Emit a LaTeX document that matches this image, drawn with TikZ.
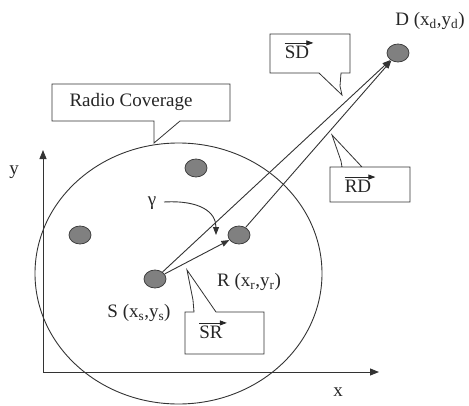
\documentclass[tikz,border=0pt]{standalone}
\usepackage{fontspec}
\setmainfont{Liberation Serif}
\usetikzlibrary{arrows.meta,shapes.geometric}
\begin{document}
\begin{tikzpicture}[x=1pt,y=-1pt,
  dot/.style={ellipse,draw=black!75,fill=black!50,line width=0.8pt,minimum width=22pt,minimum height=18pt,inner sep=0pt},
  lbl/.style={inner sep=0pt,text=black!85,font=\fontsize{19}{22}\selectfont},
  callout/.style={draw=black!80,fill=white,line width=0.8pt,line join=miter},
  vec/.style={-{Triangle[length=7pt,width=5pt]},line width=0.8pt,draw=black!85},
  conn/.style={-{Triangle[length=8pt,width=6pt]},line width=0.9pt,draw=black!80},
  axis/.style={-{Triangle[length=9pt,width=7pt]},line width=0.9pt,draw=black!80}]
\useasboundingbox (0,0) rectangle (469,405);
% coverage
\draw[line width=0.9pt,draw=black!80] (178.5,273.5) ellipse [x radius=143.5,y radius=130.5];
% axes
\coordinate (O) at (43,372);
\coordinate (Ytip) at (43,150);
\coordinate (Xtip) at (379,372);
\draw[axis] (O) -- (Ytip);
\draw[axis] (O) -- (Xtip);
\node[lbl] (ylab) at (14,172) {y};
\node[lbl] (xlab) at (338,392) {x};
% nodes
\node[dot] (D) at (398,53) {};
\node[dot] (S) at (155,279) {};
\node[dot] (R) at (239,235) {};
\node[dot] (N1) at (80,235) {};
\node[dot] (N2) at (196,168) {};
% labels
\node[lbl] (Dl) at (430,21) {D (x\textsubscript{d},y\textsubscript{d})};
\node[lbl] (Rl) at (249,282) {R (x\textsubscript{r},y\textsubscript{r})};
\node[lbl] (Sl) at (139,313) {S (x\textsubscript{s},y\textsubscript{s})};
% connectors
\draw[conn] (S) -- (D);
\draw[conn] (R) -- (D);
\draw[conn] (S) -- (R);
% angle
\draw[line width=0.8pt,draw=black!80] (S) ++(42.9:63) arc[start angle=42.9,end angle=26,radius=63];
\node[lbl] (g) at (152,203) {γ};
\coordinate (gs) at (164,202);
\coordinate (ge) at (216,235);
\draw[conn] (gs) .. controls (200,200) and (216,212) .. (ge);
% callouts
\draw[callout] (52,84) -- (230,84) -- (230,121) -- (180,121) -- (154,143) -- (154,121) -- (52,121) -- cycle;
\node[lbl] (rc) at (131,102) {Radio Coverage};
\draw[callout] (270,34) -- (350,34) -- (350,73) -- (341,73) -- (340,86) -- (342,95) -- (319,73) -- (270,73) -- cycle;
\node[lbl] (sd) at (297,52) {SD};
\draw[vec] ([yshift=2.5pt]sd.north west) -- ([xshift=4pt,yshift=2.5pt]sd.north east);
\draw[callout] (330,167) -- (410,167) -- (410,202) -- (330,202) -- (330,167) -- (342,167) -- (341,161) -- (332,135) -- (362,167) -- cycle;
\node[lbl] (rd) at (358,186) {RD};
\draw[vec] ([yshift=2.5pt]rd.north west) -- ([xshift=4pt,yshift=2.5pt]rd.north east);
\draw[callout] (185,312) -- (194,312) -- (193,300) -- (187,270) -- (216,312) -- (264,312) -- (264,354) -- (185,354) -- cycle;
\node[lbl] (sr) at (211,332) {SR};
\draw[vec] ([yshift=2.5pt]sr.north west) -- ([xshift=4pt,yshift=2.5pt]sr.north east);
\end{tikzpicture}
\end{document}
